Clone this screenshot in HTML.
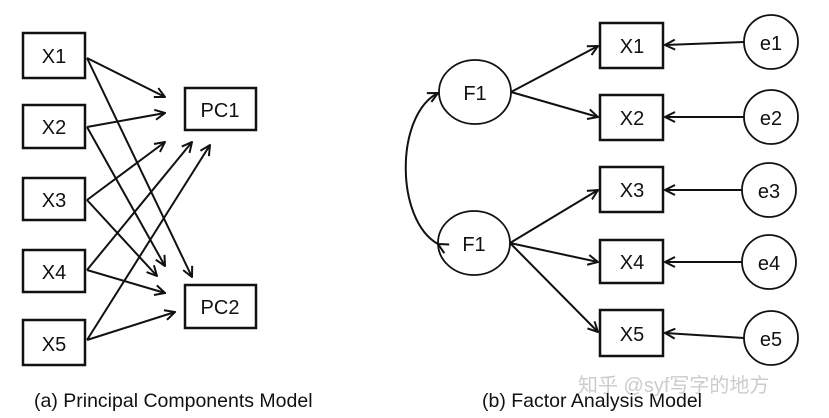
<html><body style="margin:0;background:#fff">
<svg width="829" height="418" viewBox="0 0 829 418" xmlns="http://www.w3.org/2000/svg" font-family="Liberation Sans, sans-serif">
<defs><marker id="a" markerWidth="12" markerHeight="12" refX="11" refY="6" orient="auto" markerUnits="userSpaceOnUse"><path d="M1,1 L11,6 L1,11" fill="none" stroke="#111" stroke-width="2"/></marker></defs>
<g fill="none" stroke="#111" stroke-width="2.5">
<rect x="23" y="33" width="62" height="45"/><rect x="23" y="105" width="62" height="43"/><rect x="23" y="178" width="62" height="42"/><rect x="23" y="250" width="62" height="42"/><rect x="23" y="320" width="62" height="45"/>
<rect x="185" y="88" width="71" height="42"/><rect x="185" y="285" width="71" height="43"/>
<rect x="600" y="23" width="63" height="45"/><rect x="600" y="95" width="63" height="45"/><rect x="600" y="167" width="63" height="45"/><rect x="600" y="240" width="63" height="43"/><rect x="600" y="310" width="63" height="46"/>
</g>
<g fill="none" stroke="#111" stroke-width="1.8">
<ellipse cx="475" cy="92" rx="36" ry="32"/><ellipse cx="474" cy="243" rx="36" ry="32"/>
<circle cx="771" cy="42" r="27"/><circle cx="771" cy="117" r="27"/><circle cx="769" cy="190" r="27"/><circle cx="769" cy="262" r="27"/><circle cx="771" cy="338" r="27"/>
</g>
<g stroke="#111" stroke-width="2" fill="none" marker-end="url(#a)">
<line x1="87" y1="58" x2="165" y2="97"/><line x1="87" y1="58" x2="192" y2="277"/>
<line x1="87" y1="127" x2="165" y2="113"/><line x1="87" y1="127" x2="165" y2="266"/>
<line x1="87" y1="200" x2="165" y2="142"/><line x1="87" y1="200" x2="157" y2="276"/>
<line x1="87" y1="270" x2="192" y2="142"/><line x1="87" y1="270" x2="165" y2="293"/>
<line x1="87" y1="340" x2="210" y2="145"/><line x1="87" y1="340" x2="175" y2="312"/>
<line x1="511" y1="92" x2="598" y2="46"/><line x1="511" y1="92" x2="598" y2="117"/>
<line x1="510" y1="243" x2="598" y2="190"/><line x1="510" y1="243" x2="598" y2="262"/><line x1="510" y1="243" x2="598" y2="332"/>
<line x1="744" y1="42" x2="665" y2="45"/><line x1="744" y1="117" x2="665" y2="117"/><line x1="742" y1="190" x2="665" y2="190"/><line x1="742" y1="262" x2="665" y2="262"/><line x1="744" y1="338" x2="665" y2="333"/>
<path d="M438,244 C395,220 395,115 438,93" marker-start="url(#a)"/>
</g>
<g font-size="20" fill="#111" text-anchor="middle">
<text x="54" y="63">X1</text><text x="54" y="134">X2</text><text x="54" y="207">X3</text><text x="54" y="279">X4</text><text x="54" y="351">X5</text>
<text x="220" y="117">PC1</text><text x="220" y="314">PC2</text>
<text x="632" y="53">X1</text><text x="632" y="125">X2</text><text x="632" y="197">X3</text><text x="632" y="269">X4</text><text x="632" y="341">X5</text>
<text x="475" y="100">F1</text><text x="474" y="251">F1</text>
<text x="771" y="50">e1</text><text x="771" y="125">e2</text><text x="769" y="198">e3</text><text x="769" y="270">e4</text><text x="771" y="346">e5</text>
</g>
<text x="578" y="392" font-size="20" fill="#ccc" font-family="Liberation Sans, Noto Sans CJK SC, sans-serif">知乎 @syf写字的地方</text>
<g font-size="19.5" fill="#111"><text x="34" y="407">(a) Principal Components Model</text><text x="482" y="407">(b) Factor Analysis Model</text></g>
</svg></body></html>
